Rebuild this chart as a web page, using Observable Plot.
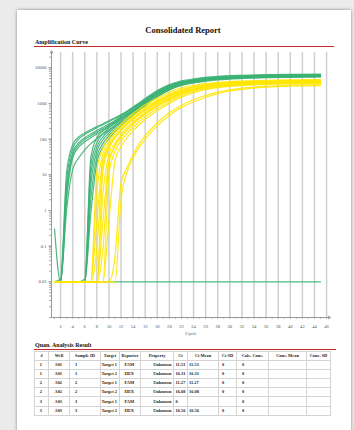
<!DOCTYPE html>
<html><head><meta charset="utf-8">
<script src="https://cdn.jsdelivr.net/npm/d3@7"></script>
<script src="https://cdn.jsdelivr.net/npm/@observablehq/plot@0.6"></script>
<style>
html,body{margin:0;padding:0;}
body{width:354px;height:430px;overflow:hidden;background:#ebebeb;position:relative;font-family:"Liberation Serif",serif;color:#222;}
#page{position:absolute;left:17px;top:10px;width:334px;height:440px;background:#fff;box-shadow:0 0 3px rgba(0,0,0,0.45);}
.abs{position:absolute;}
#title{left:0;width:366px;top:24px;text-align:center;font-weight:bold;font-size:8.5px;line-height:12px;color:#111;}
.sec{left:35px;font-weight:bold;font-size:6px;line-height:8px;color:#111;}
.red{left:34px;width:300px;height:1px;background:#c62828;}
#chart{left:0;top:48px;}
#tbl{left:34px;top:350.5px;}
table{border-collapse:collapse;table-layout:fixed;width:296px;font-size:4.4px;font-weight:bold;color:#222;border:0.8px solid #aaa;}
td,th{border:0.6px solid #d4d4d4;padding:0 1.5px;height:8.1px;line-height:8px;white-space:nowrap;overflow:hidden;text-align:left;}
th{text-align:center;height:8.6px;}
</style></head>
<body>
<div id="page"></div>
<div id="title" class="abs">Consolidated Report</div>
<div class="abs sec" style="top:37.5px">Amplification Curve</div>
<div class="abs red" style="top:45.5px"></div>
<div id="chart" class="abs"></div>
<div class="abs sec" style="top:341px">Quan. Analysis Result</div>
<div class="abs red" style="top:349px;width:302px"></div>
<div id="tbl" class="abs"></div>
<script>
// ---- chart data ----
const cycles = [1,2,3,4,5,6,7,8,9,10,11,12,13,14,15,16,18,20,22,25,28,32,36,40,45];

// FAM, early amplifying wells
const famEarly = [
  [0.01,0.012,12,70,115,150,185,225,270,330,400,490,610,770,980,1280,2150,3150,3950,4750,5250,5650,5900,6050,6150],
  [0.3,0.01,7,55,100,135,170,210,255,310,380,470,590,740,950,1240,2080,3050,3850,4650,5150,5550,5800,5950,6050],
  [0.01,0.01,4,42,80,110,140,175,215,265,330,410,520,660,850,1120,1900,2850,3650,4450,5000,5400,5650,5800,5900],
  [0.01,0.01,3,36,70,98,125,158,195,242,305,380,485,620,800,1060,1820,2750,3550,4350,4900,5320,5580,5720,5820],
  [0.01,0.01,2,30,60,85,110,140,175,220,280,350,450,580,760,1000,1750,2650,3450,4250,4800,5250,5500,5650,5750],
  [0.01,0.01,1,14,30,50,75,105,140,180,230,295,380,500,660,880,1550,2400,3200,4000,4600,5050,5300,5450,5550]
];
// FAM, later amplifying wells
const famMid = [
  [0.01,0.01,0.01,0.01,0.01,0.012,30,110,170,240,330,450,600,800,1050,1380,2300,3400,4300,5200,5800,6200,6450,6600,6700],
  [0.01,0.01,0.01,0.01,0.01,0.01,18,80,140,205,290,400,540,720,960,1270,2150,3200,4100,5000,5600,6000,6250,6400,6500],
  [0.01,0.01,0.01,0.01,0.01,0.01,10,60,115,175,250,350,480,650,870,1160,2000,3000,3900,4800,5400,5800,6050,6200,6300],
  [0.01,0.01,0.01,0.01,0.01,0.01,5,45,95,150,220,310,430,590,800,1070,1850,2800,3700,4600,5200,5600,5850,6000,6100],
  [0.01,0.01,0.01,0.01,0.01,0.01,2,32,75,125,190,270,380,530,720,970,1700,2600,3500,4400,5000,5400,5650,5800,5900],
  [0.01,0.01,0.01,0.01,0.01,0.01,0.8,22,60,105,160,235,335,470,650,880,1550,2450,3300,4200,4800,5200,5450,5600,5700]
];
// FAM, no amplification
const famNegative = [
  [0.01,0.01,0.01,0.01,0.01,0.01,0.01,0.01,0.01,0.01,0.01,0.01,0.01,0.01,0.01,0.01,0.01,0.01,0.01,0.01,0.01,0.01,0.01,0.01,0.01]
];
// HEX wells
const hexCurves = [
  [0.01,0.01,0.01,0.01,0.01,0.01,0.01,13,56,112,179,269,381,526,706,918,1420,2070,2740,3470,3920,4280,4500,4610,4700],
  [0.01,0.01,0.01,0.01,0.01,0.01,0.01,3.2,40,84,147,226,326,452,609,798,1260,1850,2480,3190,3640,3990,4200,4320,4400],
  [0.01,0.01,0.01,0.01,0.01,0.01,0.01,0.5,28,70,125,195,290,400,545,720,1150,1700,2300,3000,3450,3790,4000,4100,4190],
  [0.01,0.01,0.01,0.01,0.01,0.01,0.01,0.08,21,60,109,171,257,356,489,646,1045,1560,2130,2810,3260,3580,3790,3900,3980],
  [0.01,0.01,0.01,0.01,0.01,0.01,0.01,0.01,13,54,108,173,259,367,508,680,1123,1674,2322,3132,3672,4050,4298,4400,4520],
  [0.01,0.01,0.01,0.01,0.01,0.01,0.01,0.01,2.9,37,78,137,211,304,421,568,950,1440,2020,2780,3300,3650,3890,4010,4100],
  [0.01,0.01,0.01,0.01,0.01,0.01,0.01,0.01,0.5,26,64,115,179,267,368,501,846,1290,1840,2580,3050,3410,3640,3750,3850],
  [0.01,0.01,0.01,0.01,0.01,0.01,0.01,0.01,0.08,22,63,115,180,270,375,515,880,1340,1940,2760,3300,3700,3950,4080,4170],
  [0.01,0.01,0.01,0.01,0.01,0.01,0.01,0.01,0.01,11,45,90,144,216,306,423,738,1143,1665,2430,2925,3310,3560,3670,3750],
  [0.01,0.01,0.01,0.01,0.01,0.01,0.01,0.01,0.01,0.5,25,62,110,172,255,352,634,1010,1500,2270,2790,3200,3450,3570,3660],
  [0.01,0.01,0.01,0.01,0.01,0.01,0.01,0.01,0.01,0.01,0.05,6,16,38,75,125,290,560,900,1500,2100,2700,3050,3250,3350],
  [0.01,0.01,0.01,0.01,0.01,0.01,0.01,0.01,0.01,0.01,0.01,2,12,30,60,100,240,470,780,1300,1900,2500,2900,3100,3200]
];

const yTicks = [0.01,0.1,1,10,100,1000,10000];
const yTickLabels = ["0.01","0.1","1","10","100","1000","10000"];
const xTicks = [2,4,6,8,10,12,14,16,18,20,22,24,26,28,30,32,34,36,38,40,42,44,46];
const xTitle = "Cycle";

// ---- table data ----
const tableHeaders = ["#","Well","Sample ID","Target","Reporter","Property","Ct","Ct Mean","Ct SD","Calc. Conc.","Conc. Mean","Conc. SD"];
const rowNo = ["1","1","2","2","3","3"];
const wells = ["A01","A01","A02","A02","A03","A03"];
const sampleIds = ["1","1","2","2","3","3"];
const targets = ["Target 1","Target 2","Target 1","Target 2","Target 1","Target 2"];
const reporters = ["FAM","HEX","FAM","HEX","FAM","HEX"];
const properties = ["Unknown","Unknown","Unknown","Unknown","Unknown","Unknown"];
const cts = ["11.53","16.31","11.27","16.08","0","16.56"];
const ctMeans = ["11.53","16.31","11.27","16.08","","16.56"];
const ctSDs = ["0","0","0","0","","0"];
const calcConcs = ["0","0","0","0","0","0"];
const concMeans = ["","","","","",""];
const concSDs = ["","","","","",""];

// ---- build line table ----
const lineData = [];
function addCurves(curves, group, reporter) {
  curves.forEach((vals, k) => vals.forEach((v, j) =>
    lineData.push({cycle: cycles[j], value: v, curve: group + k, reporter})));
}
addCurves(famNegative, "neg", "FAM");
addCurves(famEarly, "early", "FAM");
addCurves(famMid, "mid", "FAM");
addCurves(hexCurves, "hex", "HEX");

const minorY = [];
for (let e = -3; e <= 4; e++) for (let m = 1; m <= 9; m++) { const v = m * Math.pow(10, e); if (v <= 27000) minorY.push(+v.toPrecision(3)); }
const minorX = d3.range(1, 47);

const plot = Plot.plot({
  width: 354, height: 292,
  marginLeft: 51, marginRight: 24, marginTop: 4, marginBottom: 23,
  x: {domain: [0.5, 46.65]},
  y: {type: "log", domain: [0.001, 27000]},
  color: {domain: ["FAM","HEX"], range: ["#3cb374","#ffe500"]},
  style: {fontFamily: "'Liberation Serif', serif", background: "transparent", overflow: "visible"},
  marks: [
    Plot.ruleX(xTicks, {stroke: "#cfcfcf", strokeWidth: 1.5}),
    Plot.axisY(minorY, {tickSize: 2, tickFormat: () => "", stroke: "#aaa", label: null}),
    Plot.axisY(yTicks, {tickSize: 2.5, tickPadding: 2.5, tickFormat: d => yTickLabels[yTicks.indexOf(d)], fontSize: 4.6, stroke: "#999", fill: "#555", label: null}),
    Plot.axisX(minorX, {tickSize: 1.8, tickFormat: () => "", stroke: "#aaa", label: null}),
    Plot.axisX(xTicks, {tickSize: 0, tickPadding: 7, fontSize: 4.6, fill: "#555", label: null}),
    Plot.arrow([0], {x1: 0.5, y1: 0.001, x2: 46.65, y2: 0.001, stroke: "#9a9a9a", strokeWidth: 1, headLength: 4}),
    Plot.arrow([0], {x1: 0.5, y1: 0.001, x2: 0.5, y2: 30000, stroke: "#9a9a9a", strokeWidth: 1, headLength: 4}),
    Plot.line(lineData, {x: "cycle", y: "value", z: "curve", stroke: "reporter", strokeWidth: 1.2, strokeOpacity: 0.9, curve: "monotone-x"}),
    Plot.text([xTitle], {frameAnchor: "bottom", dy: 17, fontSize: 5, fill: "#555"})
  ]
});
document.getElementById("chart").appendChild(plot);

// ---- table ----
const cols = [rowNo, wells, sampleIds, targets, reporters, properties, cts, ctMeans, ctSDs, calcConcs, concMeans, concSDs];
const widths = [14, 21, 31, 19, 21, 33, 14, 31, 18, 32, 38, 24];
const aligns = ["center","center","left","center","center","right","left","left","left","left","left","left"];
const pads = [0, 0, 5, 0, 0, 1.5, 1.5, 1, 3, 5, 2, 2];
const table = d3.select("#tbl").append("table");
const cg = table.append("colgroup");
widths.forEach(w => cg.append("col").style("width", w + "px"));
const hr = table.append("tr");
tableHeaders.forEach(h => hr.append("th").text(h));
rowNo.forEach((_, r) => {
  const tr = table.append("tr");
  cols.forEach((c, i) => tr.append("td").text(c[r]).style("text-align", aligns[i])
    .style(aligns[i] === "right" ? "padding-right" : "padding-left", pads[i] + "px"));
});
</script>
</body></html>
